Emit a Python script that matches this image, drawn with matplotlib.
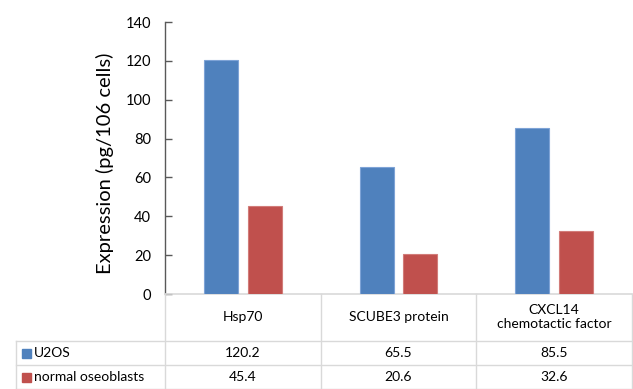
import matplotlib
matplotlib.use("Agg")
import matplotlib.pyplot as plt
import matplotlib.transforms as mtransforms
from matplotlib.patches import Rectangle
from matplotlib.lines import Line2D

categories = ["Hsp70", "SCUBE3 protein", "CXCL14\nchemotactic factor"]
series_names = ["U2OS", "normal oseoblasts"]
u2os = [120.2, 65.5, 85.5]
normal = [45.4, 20.6, 32.6]
yticks = [0, 20, 40, 60, 80, 100, 120, 140]
ylabel = "Expression (pg/106 cells)"

colors = ["#4F81BD", "#C0504D"]
edge_colors = ["#7EA3D6", "#D27C79"]
grid_col = "#D9D9D9"
font = ["Lato", "DejaVu Sans"]
plt.rcParams["font.family"] = font

W, H = 633, 389
fig = plt.figure(figsize=(W / 100, H / 100), dpi=100)

def fy(py):
    return 1 - py / H

def fx(px):
    return px / W

ax_left, ax_right, ax_top, ax_bot = 165, 632, 22, 294
ax = fig.add_axes([fx(ax_left), fy(ax_bot), fx(ax_right) - fx(ax_left), fy(ax_top) - fy(ax_bot)])

n = len(categories)
x = list(range(n))
bw = 0.218
off = 0.141
series = [u2os, normal]
for i, vals in enumerate(series):
    ax.bar([xi + (i - 0.5) * 2 * off for xi in x], vals, width=bw,
           color=colors[i], edgecolor=edge_colors[i], linewidth=0.8, zorder=3)

ax.set_xlim(-0.5, n - 0.5)
ax.set_ylim(0, 140)
ax.set_yticks(yticks)
ax.set_yticklabels([str(t) for t in yticks], fontsize=10.5, color="#000000")
ax.tick_params(axis="y", length=5, width=1, color="#595959", pad=10, direction="in")
ax.set_xticks([])
for s in ["top", "right"]:
    ax.spines[s].set_visible(False)
ax.spines["left"].set_color("#595959")
ax.spines["left"].set_linewidth(1.0)
ax.spines["bottom"].set_color(grid_col)
ax.spines["bottom"].set_linewidth(1.2)
ax.set_ylabel(ylabel, fontsize=14.5, va="center")
ax.yaxis.set_label_coords((105 - ax_left) / (ax_right - ax_left), (ax_bot - 163) / (ax_bot - ax_top))

blend = mtransforms.blended_transform_factory(ax.transData, fig.transFigure)
tbl_left = 16

def hline(x0, x1, py):
    fig.add_artist(Line2D([fx(x0), fx(x1)], [fy(py), fy(py)], color=grid_col, lw=1.0, transform=fig.transFigure))

def vline(px, y0, y1):
    fig.add_artist(Line2D([fx(px), fx(px)], [fy(y0), fy(y1)], color=grid_col, lw=1.0, transform=fig.transFigure))

for b in range(n + 1):
    xb = b - 0.5
    xpix = ax.transData.transform((xb, 0))[0]
    vline(xpix, 294, 389)
vline(tbl_left, 341, 389)
hline(tbl_left, ax_right, 341)
hline(tbl_left, ax_right, 365)
hline(tbl_left, ax_right, 388.5)

for xi, c in zip(x, categories):
    fig.text(xi, fy(317), c, transform=blend, ha="center", va="center",
             fontsize=10, linespacing=1.3)

row_centers = [353, 377]
for r, (name, vals) in enumerate(zip(series_names, series)):
    yc = row_centers[r]
    fig.add_artist(Rectangle((fx(22), fy(yc + 4.5)), fx(9), 9 / H, color=colors[r],
                             transform=fig.transFigure))
    fig.text(fx(34), fy(yc), name, ha="left", va="center", fontsize=10)
    for xi, v in zip(x, vals):
        fig.text(xi, fy(yc), f"{v:.1f}", transform=blend, ha="center", va="center", fontsize=10)

fig.savefig("out.png", dpi=100, facecolor="white")
